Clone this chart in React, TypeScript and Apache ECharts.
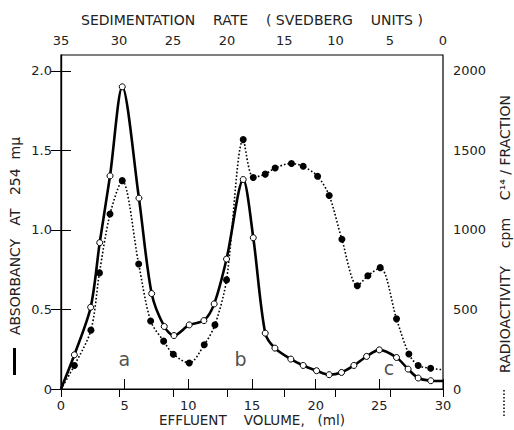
import React, { useEffect, useRef } from 'react';
import * as echarts from 'echarts';

// Absorbance at 254 mμ (solid line, open circles)
const absVolume = [0, 1.05, 2.33, 3.04, 3.85, 4.81, 6.12, 7.12, 8.11, 8.87, 10.07, 11.22, 12.03, 13.0, 14.31, 15.1, 16.04, 16.8, 18.05, 19.02, 20.07, 21.06, 22.03, 23.0, 24.0, 25.0, 26.35, 27.26, 28.05, 29.04, 30];
const absorbance = [0, 0.215, 0.514, 0.92, 1.34, 1.9, 1.2, 0.6, 0.393, 0.336, 0.403, 0.43, 0.535, 0.817, 1.317, 0.951, 0.351, 0.257, 0.188, 0.148, 0.115, 0.09, 0.104, 0.148, 0.205, 0.246, 0.198, 0.125, 0.069, 0.052, 0.05];

// Radioactivity cpm C14 / fraction (dotted line, filled circles)
const radVolume = [0, 1.05, 2.35, 3.02, 3.85, 4.81, 6.1, 7.04, 8.06, 8.82, 10.07, 11.25, 12.09, 13.0, 14.31, 15.1, 16.04, 16.82, 18.1, 19.02, 20.15, 21.06, 22.06, 23.27, 24.1, 25.07, 26.35, 27.32, 28.05, 29.03, 30];
const radioactivity = [0, 148, 370, 730, 1100, 1310, 786, 428, 301, 219, 163, 278, 403, 686, 1568, 1330, 1351, 1390, 1418, 1400, 1338, 1217, 941, 649, 712, 763, 441, 220, 148, 130, 121];

// Top axis: sedimentation rate (Svedberg units) at effluent volume (ml)
const sedimentationLabels = ['35', '30', '25', '20', '15', '10', '5', '0'];
const sedimentationAtVolume = [0, 4.55, 8.79, 13.03, 17.53, 21.56, 25.82, 30];

// Peak annotations
const peakNames = ['a', 'b', 'c'];
const peakVolume = [4.97, 14.1, 25.75];
const peakAbsorbance = [0.19, 0.19, 0.13];

const absTicks = [0, 0.5, 1.0, 1.5, 2.0];
const radTicks = [0, 500, 1000, 1500, 2000];

const FONT = 'DejaVu Sans';
const TXT = '#222';

export default function App() {
  const ref = useRef<HTMLDivElement>(null);
  useEffect(() => {
    if (!ref.current) return;
    const chart = echarts.init(ref.current, null, { renderer: 'svg' });
    const lastAbs = absVolume.length - 1;
    const lastRad = radVolume.length - 1;
    chart.setOption({
      animation: false,
      backgroundColor: '#fff',
      grid: {
        left: 61, right: 71, top: 55, bottom: 41, show: true, borderColor: '#000', borderWidth: 1.2,
        containLabel: false, outerBoundsMode: 'none',
      },
      xAxis: [
        {
          type: 'value', min: 0, max: 30, interval: 5, position: 'bottom',
          axisLine: { show: true, lineStyle: { color: '#000', width: 1.2 } },
          axisTick: { inside: true, length: 10, lineStyle: { color: '#000' } },
          axisLabel: { color: TXT, fontFamily: FONT, fontSize: 13, margin: 10 },
          splitLine: { show: false },
        },
        {
          type: 'value', min: 0, max: 30, position: 'top',
          axisLine: { show: true, lineStyle: { color: '#000', width: 1.2 } },
          axisTick: { inside: true, length: 8, customValues: sedimentationAtVolume, lineStyle: { color: '#000' } },
          axisLabel: {
            color: TXT, fontFamily: FONT, fontSize: 13, margin: 8,
            customValues: sedimentationAtVolume,
            formatter: (v: number) => {
              let best = 0;
              sedimentationAtVolume.forEach((p, i) => { if (Math.abs(p - v) < Math.abs(sedimentationAtVolume[best] - v)) best = i; });
              return sedimentationLabels[best];
            },
          },
          splitLine: { show: false },
          name: 'SEDIMENTATION    RATE    ( SVEDBERG    UNITS )', nameLocation: 'middle', nameGap: 28,
          nameTextStyle: { color: TXT, fontFamily: FONT, fontSize: 14 },
        },
      ],
      yAxis: [
        {
          type: 'value', min: 0, max: 2.1, position: 'left',
          axisLine: { show: true, lineStyle: { color: '#000', width: 1.2 } },
          axisTick: { inside: true, length: 10, customValues: absTicks, lineStyle: { color: '#000' } },
          axisLabel: {
            color: TXT, fontFamily: FONT, fontSize: 13, margin: 9, customValues: absTicks,
            formatter: (v: number) => (v === 0 ? '0' : v.toFixed(1)),
          },
          splitLine: { show: false },
        },
        {
          type: 'value', min: 0, max: 2100, position: 'right',
          axisLine: { show: true, lineStyle: { color: '#000', width: 1.2 } },
          axisTick: { inside: true, length: 10, customValues: radTicks, lineStyle: { color: '#000' } },
          axisLabel: {
            color: TXT, fontFamily: FONT, fontSize: 13, margin: 10, customValues: radTicks,
            formatter: (v: number) => String(v),
          },
          splitLine: { show: false },
        },
      ],
      series: [
        {
          type: 'line', xAxisIndex: 0, yAxisIndex: 1, smooth: 0.3,
          data: radVolume.map((x, i) => ({
            value: [x, radioactivity[i]],
            symbol: i === 0 || i === lastRad ? 'none' : 'circle',
          })),
          symbolSize: 7,
          itemStyle: { color: '#000', borderColor: '#000', borderWidth: 0 },
          lineStyle: { color: '#000', width: 1.6, type: [1.6, 2] },
          z: 2,
        },
        {
          type: 'line', xAxisIndex: 0, yAxisIndex: 0, smooth: 0.3,
          data: absVolume.map((x, i) => ({
            value: [x, absorbance[i]],
            symbol: i === 0 || i === lastAbs ? 'none' : 'circle',
          })),
          symbolSize: 6,
          itemStyle: { color: '#fff', borderColor: '#000', borderWidth: 1 },
          lineStyle: { color: '#000', width: 2.6 },
          z: 3,
        },
        {
          type: 'scatter', xAxisIndex: 0, yAxisIndex: 0, symbolSize: 0,
          data: peakNames.map((n, i) => ({ name: n, value: [peakVolume[i], peakAbsorbance[i]] })),
          label: {
            show: true, position: 'inside', formatter: (p: any) => p.name,
            color: TXT, fontFamily: FONT, fontSize: 19,
          },
          z: 4,
        },
      ],
      graphic: [
        {
          type: 'text', x: 252, y: 420,
          style: { text: 'EFFLUENT    VOLUME,   (ml)', fill: TXT, font: `13.5px "${FONT}"`, align: 'center', verticalAlign: 'middle' },
        },
        {
          type: 'text', x: 15, y: 236, rotation: Math.PI / 2,
          style: { text: 'ABSORBANCY   AT   254  mμ', fill: TXT, font: `14px "${FONT}"`, align: 'center', verticalAlign: 'middle' },
        },
        { type: 'rect', shape: { x: 13, y: 348, width: 3, height: 27 }, style: { fill: '#000' } },
        {
          type: 'text', x: 505, y: 234, rotation: Math.PI / 2,
          style: { text: 'RADIOACTIVITY    cpm    C¹⁴ / FRACTION', fill: TXT, font: `14px "${FONT}"`, align: 'center', verticalAlign: 'middle' },
        },
        {
          type: 'line', shape: { x1: 504, y1: 390, x2: 504, y2: 417 },
          style: { stroke: '#000', lineWidth: 1.5, lineDash: [1.5, 2] },
        },
      ],
    });
    return () => chart.dispose();
  }, []);
  return <div ref={ref} style={{ position: 'fixed', left: 0, top: 0, width: 514, height: 430 }} />;
}
